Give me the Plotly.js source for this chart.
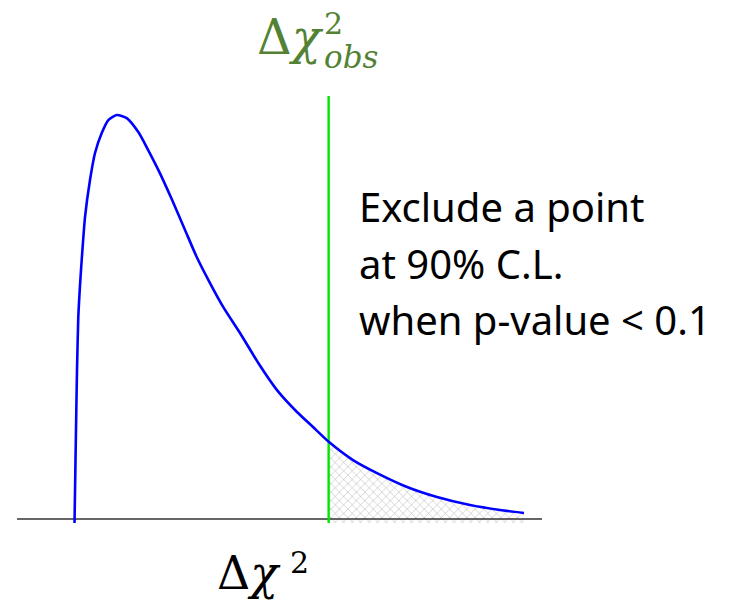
<!DOCTYPE html>
<html>
<head>
<meta charset="utf-8">
<script src="https://cdn.plot.ly/plotly-3.0.1.min.js"></script>
<style>
  html, body { margin: 0; padding: 0; background: #ffffff; }
  #chart { width: 733px; height: 600px; }
</style>
</head>
<body>
<div id="chart"></div>
<script>
// Sampled test-statistic distribution (Δχ² on x, probability density on y)
const deltaChi2 = [0, 0.023, 0.042, 0.058, 0.088, 0.128, 0.167, 0.244, 0.360, 0.477,
  0.633, 0.786, 0.981, 1.214, 1.484, 1.716, 1.988, 2.260, 2.570, 2.842, 3.151, 3.460,
  3.849, 4.274, 4.709, 5.174, 5.547, 5.919, 6.477, 7.035, 7.733, 8.430, 9.198, 9.895, 10.453];
const density = [-0.0024, 0.0353, 0.0653, 0.0892, 0.1210, 0.1401, 0.1551, 0.1808, 0.2030, 0.2192,
  0.2311, 0.2389, 0.2419, 0.2401, 0.2317, 0.2208, 0.2070, 0.1916, 0.1731, 0.1569, 0.1413, 0.1269,
  0.1114, 0.0934, 0.0772, 0.0641, 0.0551, 0.0461, 0.0353, 0.0275, 0.0192, 0.0132, 0.0084, 0.0054, 0.0036];

// Observed value of the statistic and the extent of the drawn baseline
const chi2Obs = 5.91;
const obsLineTop = 0.2533;
const floorY = -0.0024;
const baselineX = [-1.337, 10.872];

// Tail region beyond the observed value (the p-value area)
const tailX = [chi2Obs];
const tailY = [floorY];
deltaChi2.forEach((x, i) => {
  if (x >= chi2Obs) { tailX.push(x); tailY.push(density[i]); }
});
tailX.push(tailX[tailX.length - 1]);
tailY.push(floorY);

const mathFont = 'DejaVu Serif, Liberation Serif, serif';
const textFont = 'Noto Sans, Open Sans, sans-serif';
const green = '#548235';

// helpers for pixel-placed labels on a 733x600 paper
const px = v => v / 733;
const py = v => 1 - v / 600;

const traces = [
  {
    x: tailX, y: tailY, type: 'scatter', mode: 'none',
    fill: 'toself', fillcolor: 'rgba(0,0,0,0)',
    fillpattern: { shape: 'x', fgcolor: '#a8a8a8', bgcolor: 'white', size: 6, solidity: 0.15 },
    hoverinfo: 'skip'
  },
  {
    x: baselineX, y: [0, 0], type: 'scatter', mode: 'lines',
    line: { color: '#333333', width: 1.6 }, hoverinfo: 'skip'
  },
  {
    x: [chi2Obs, chi2Obs], y: [floorY, obsLineTop], type: 'scatter', mode: 'lines',
    line: { color: '#00e600', width: 2.4 }, hoverinfo: 'skip'
  },
  {
    x: deltaChi2, y: density, type: 'scatter', mode: 'lines',
    line: { color: '#0000ff', width: 2.6, shape: 'spline', smoothing: 0.6 },
    hoverinfo: 'skip'
  }
];

const noteLines = ['Exclude a point', 'at 90% C.L.', 'when p-value &lt; 0.1'];
const noteCenters = [207, 264, 319];

const annotations = [
  // observed-value label
  { text: 'Δ<i>χ</i>', x: px(255), y: py(37), xanchor: 'left', yanchor: 'middle',
    font: { family: mathFont, size: 48, color: green } },
  { text: '2', x: px(322), y: py(23), xanchor: 'left', yanchor: 'middle',
    font: { family: mathFont, size: 30, color: green } },
  { text: '<i>obs</i>', x: px(322), y: py(57), xanchor: 'left', yanchor: 'middle',
    font: { family: mathFont, size: 31, color: green } },
  // axis label
  { text: 'Δ<i>χ</i>', x: px(215), y: py(573), xanchor: 'left', yanchor: 'middle',
    font: { family: mathFont, size: 46, color: '#000000' } },
  { text: '2', x: px(288), y: py(562), xanchor: 'left', yanchor: 'middle',
    font: { family: mathFont, size: 30, color: '#000000' } }
];
noteLines.forEach((t, i) => {
  annotations.push({
    text: t, x: px(357), y: py(noteCenters[i]), xanchor: 'left', yanchor: 'middle',
    font: { family: textFont, size: 40, color: '#000000' }
  });
});
annotations.forEach(a => { a.xref = 'paper'; a.yref = 'paper'; a.showarrow = false; });

const layout = {
  width: 733, height: 600,
  margin: { l: 0, r: 0, t: 0, b: 0 },
  paper_bgcolor: '#ffffff', plot_bgcolor: '#ffffff',
  showlegend: false,
  xaxis: { range: [-1.733, 15.314], visible: false, fixedrange: true },
  yaxis: { range: [-0.0485, 0.3108], visible: false, fixedrange: true },
  annotations: annotations
};

Plotly.newPlot('chart', traces, layout, { staticPlot: true, displayModeBar: false });
</script>
</body>
</html>
